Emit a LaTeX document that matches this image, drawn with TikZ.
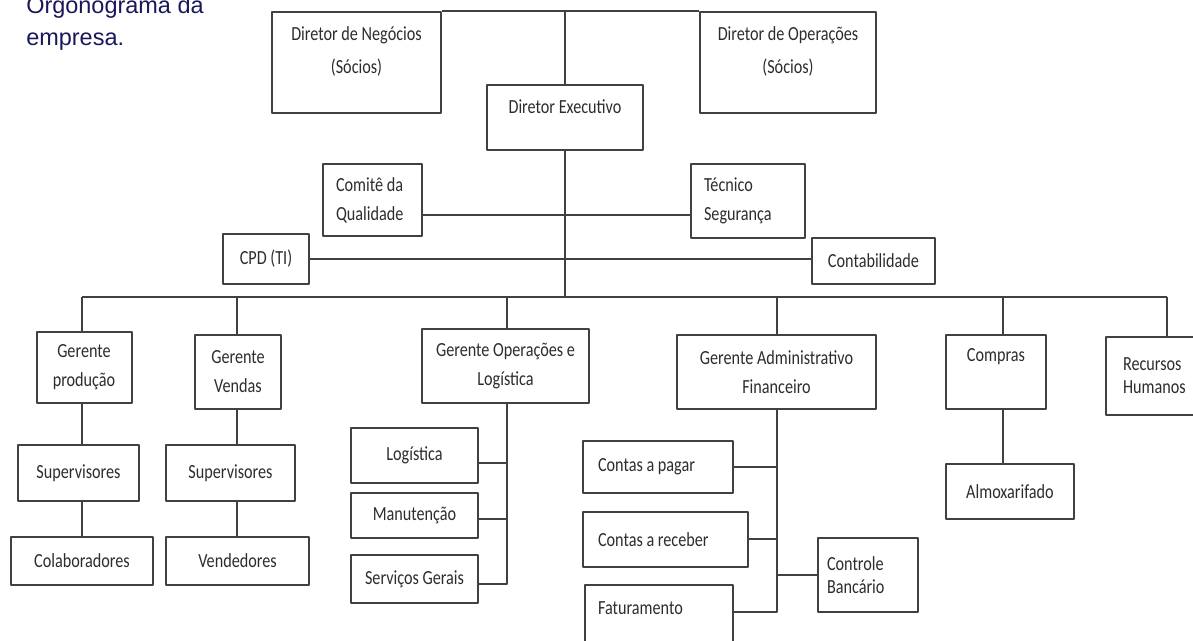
\documentclass[tikz,border=0pt]{standalone}
\usepackage{fontspec}
\newfontfamily\caixafonte{Carlito}[FakeStretch=0.81]
\newfontfamily\titfonte{Liberation Sans}
\definecolor{linha}{RGB}{65,65,65}
\definecolor{texto}{RGB}{45,45,45}
\definecolor{titcor}{RGB}{25,25,90}
\begin{document}
\begin{tikzpicture}[x=0.75pt,y=-0.75pt,line join=round,
  caixa/.style={draw=linha,line width=1.5pt,fill=white,text=texto,inner sep=0pt,align=center,
    font=\caixafonte\fontsize{15pt}{21.75pt}\selectfont},
  tam/.style 2 args={minimum width=#1*0.75pt,minimum height=#2*0.75pt},
  esq/.style={align=flush left,text width=#1},
  lig/.style={draw=linha,line width=1.5pt}]
\fill[white] (0,0) rectangle (1193,641);
\useasboundingbox (0,0) rectangle (1193,641);
\node[font=\titfonte\fontsize{17.6pt}{24pt}\selectfont,text=titcor,align=left,anchor=west,inner sep=0pt] (titulo) at (26,23) {Orgonograma da\\empresa.};
\node[caixa,tam={169}{101}] (dn) at (356.5,62.5) {Diretor de Negócios\\[3pt](Sócios)\\[-3.75pt]\mbox{}};
\node[caixa,tam={176}{101}] (do) at (788,62.5) {Diretor de Operações\\[3pt](Sócios)\\[-3.75pt]\mbox{}};
\node[caixa,tam={156}{65},text depth=17pt] (de) at (565,117.5) {Diretor Executivo};
\node[caixa,tam={99}{72},esq=54.75pt] (com) at (372.5,200) {Comitê da\\Qualidade};
\node[caixa,tam={114}{74},esq=66pt] (tec) at (748,201) {Técnico\\Segurança};
\node[caixa,tam={86}{50}] (cpd) at (266,259) {CPD (TI)};
\node[caixa,tam={123}{46}] (cont) at (873.5,261) {Contabilidade};
\node[caixa,tam={95}{71}] (gp) at (84,367.5) {Gerente\\produção};
\node[caixa,tam={86}{74}] (gv) at (238,372) {Gerente\\Vendas};
\node[caixa,tam={167}{74}] (gol) at (505.5,366) {Gerente Operações e\\Logística};
\node[caixa,tam={199}{74}] (gaf) at (776.5,372) {Gerente Administrativo\\Financeiro};
\node[caixa,tam={100}{74},text depth=25pt] (comp) at (996,372) {Compras};
\node[caixa,tam={122}{78},esq=66pt] (rh) at (1167,376) {Recursos\\[-4.5pt]Humanos};
\node[caixa,tam={121}{56}] (sup1) at (78.5,473) {Supervisores};
\node[caixa,tam={142}{48}] (col) at (82,561) {Colaboradores};
\node[caixa,tam={129}{56}] (sup2) at (230.5,473) {Supervisores};
\node[caixa,tam={143}{48}] (ven) at (237.5,561) {Vendedores};
\node[caixa,tam={127}{55}] (log) at (414.5,455.5) {Logística};
\node[caixa,tam={127}{45}] (man) at (414.5,515.5) {Manutenção};
\node[caixa,tam={127}{48}] (serv) at (414.5,579) {Serviços Gerais};
\node[caixa,tam={150}{52},esq=90pt] (cap) at (658,467) {Contas a pagar};
\node[caixa,tam={165}{55},esq=101.25pt] (car) at (665.5,539.5) {Contas a receber};
\node[caixa,tam={148}{65},esq=91.5pt,text depth=14pt] (fat) at (659,617.5) {Faturamento};
\node[caixa,tam={100}{74},esq=61.5pt] (cb) at (868,575) {Controle\\[-4.5pt]Bancário};
\node[caixa,tam={128}{55}] (alm) at (1010,491.5) {Almoxarifado};
\coordinate (barra) at (565,297);
\coordinate (b1) at (82,297);
\coordinate (b2) at (237,297);
\coordinate (b3) at (507,297);
\coordinate (b4) at (777,297);
\coordinate (b5) at (1003,297);
\coordinate (b6) at (1167,297);
\draw[lig] (dn.north east) -- (do.north west);
\draw[lig] (de.north) -- (de.north |- dn.north);
\draw[lig] (de.south) -- (barra);
\draw[lig] ([yshift=-11.25pt]com.east) -- ([yshift=-11.25pt]com.east -| tec.west);
\draw[lig] (cpd.east) -- (cpd.east -| cont.west);
\draw[lig] (b1) -- (b6);
\foreach \ba/\no in {b1/gp,b2/gv,b3/gol,b4/gaf,b5/comp,b6/rh}
  \draw[lig] (\ba) -- (\ba |- \no.north);
\draw[lig] (b1 |- gp.south) -- (b1 |- sup1.north) (b1 |- sup1.south) -- (b1 |- col.north);
\draw[lig] (b2 |- gv.south) -- (b2 |- sup2.north) (b2 |- sup2.south) -- (b2 |- ven.north);
\draw[lig] (b3 |- gol.south) |- ([yshift=-3.5pt]serv.east);
\draw[lig] ([yshift=-6pt]log.east) -- ([yshift=-6pt]log.east -| b3);
\draw[lig] ([yshift=-2.5pt]man.east) -- ([yshift=-2.5pt]man.east -| b3);
\draw[lig] (b4 |- gaf.south) |- ([yshift=4pt]fat.east);
\foreach \no in {cap,car}
  \draw[lig] (\no.east) -- (\no.east -| b4);
\draw[lig] (cb.west) -- (cb.west -| b4);
\draw[lig] (b5 |- comp.south) -- (b5 |- alm.north);
\end{tikzpicture}
\end{document}
